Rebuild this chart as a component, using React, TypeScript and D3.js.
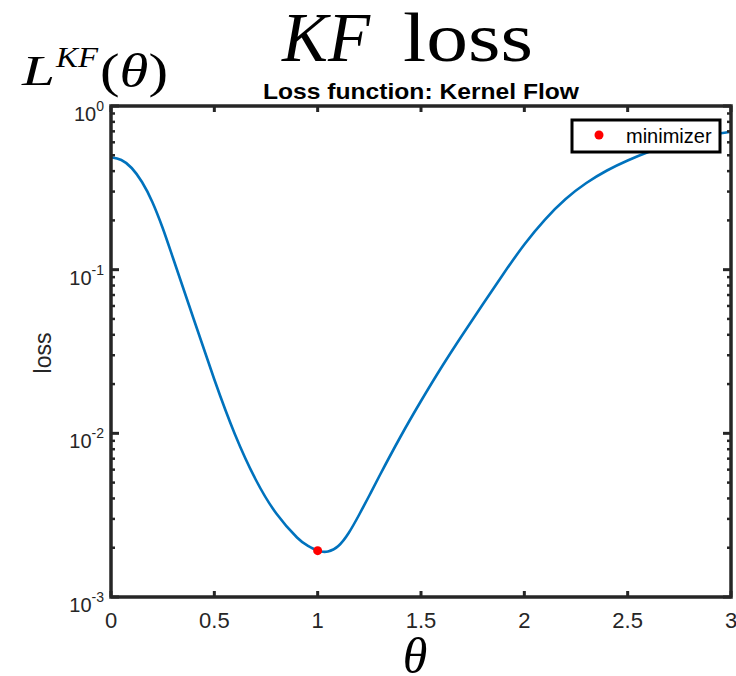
import React from "react";
import * as d3 from "d3";

// Kernel Flow loss sampled over theta
const thetaValues = [0, 0.05, 0.1, 0.15, 0.2, 0.25, 0.3, 0.4, 0.5, 0.6, 0.7, 0.8, 0.9, 0.95, 1.0, 1.05, 1.1, 1.15, 1.2, 1.25, 1.3, 1.4, 1.5, 1.6, 1.7, 1.8, 1.9, 2.0, 2.1, 2.2, 2.3, 2.4, 2.5, 2.6, 2.7, 2.8, 2.9, 3.0];
const lossValues = [0.486, 0.4678, 0.418, 0.3432, 0.2591, 0.1797, 0.1178, 0.04995, 0.02133, 0.00984, 0.005224, 0.003237, 0.00231, 0.002064, 0.00192, 0.001895, 0.00205, 0.002461, 0.00317, 0.004171, 0.005525, 0.009497, 0.01576, 0.02543, 0.0399, 0.06168, 0.09476, 0.1425, 0.2025, 0.2703, 0.3384, 0.4036, 0.4645, 0.5235, 0.5776, 0.6242, 0.6649, 0.6966];

const minimizerTheta = 1.0;
const minimizerLoss = 0.00192;

const xTicks = [0, 0.5, 1, 1.5, 2, 2.5, 3];
const xTickLabels = ["0", "0.5", "1", "1.5", "2", "2.5", "3"];
const yDecades = [0, -1, -2, -3];

const W = 736;
const H = 676;
const left = 111;
const right = 731;
const top = 106;
const bottom = 597;

const axisColor = "#262626";
const lineColor = "#0072BD";
const sans = "'Liberation Sans', Arial, sans-serif";
const serif = "'Liberation Serif', 'DejaVu Serif', serif";

export default function App() {
  const x = d3.scaleLinear().domain([0, 3]).range([left, right]);
  const y = d3.scaleLog().domain([1e-3, 1]).range([bottom, top]);

  const pts = thetaValues.map((t, i) => [t, lossValues[i]] as [number, number]);
  const line = d3
    .line<[number, number]>()
    .x((d) => x(d[0]))
    .y((d) => y(d[1]))
    .curve(d3.curveNatural);

  // minor log ticks 2..9 within each decade
  const minor: number[] = [];
  for (let e = -3; e < 0; e++) {
    for (let m = 2; m <= 9; m++) minor.push(m * Math.pow(10, e));
  }

  const majorLen = 8;
  const minorLen = 4;
  const xTickLen = 6;

  return (
    <svg
      width={W}
      height={H}
      style={{ position: "absolute", left: 0, top: 0, background: "#fff" }}
    >
      <rect x={0} y={0} width={W} height={H} fill="#fff" />

      {/* headline */}
      <text x={282} y={61} fontFamily={serif} fontSize={70} fontStyle="italic" fill="#000" textLength={88} lengthAdjust="spacingAndGlyphs">
        KF
      </text>
      <text x={403} y={61} fontFamily={serif} fontSize={70} fill="#000" textLength={130} lengthAdjust="spacingAndGlyphs">
        loss
      </text>

      {/* quantity label L^{KF}(θ) */}
      <text x={22} y={85} fontFamily={serif} fontSize={42} fontStyle="italic" fill="#000" textLength={33} lengthAdjust="spacingAndGlyphs">
        L
      </text>
      <text x={56} y={67} fontFamily={serif} fontSize={29} fontStyle="italic" fill="#000" textLength={42} lengthAdjust="spacingAndGlyphs">
        KF
      </text>
      <text x={100} y={87} fontFamily={serif} fontSize={48} fill="#000" textLength={68} lengthAdjust="spacingAndGlyphs">
        <tspan>(</tspan>
        <tspan fontStyle="italic">θ</tspan>
        <tspan>)</tspan>
      </text>

      {/* axes title */}
      <text x={421} y={99} textAnchor="middle" fontFamily={sans} fontSize={22} fontWeight="bold" fill="#000" textLength={316} lengthAdjust="spacingAndGlyphs">
        Loss function: Kernel Flow
      </text>

      {/* curve */}
      <path d={line(pts) || ""} fill="none" stroke={lineColor} strokeWidth={2.6} />

      {/* minimizer */}
      <circle cx={x(minimizerTheta)} cy={y(minimizerLoss)} r={4.5} fill="#ff0000" />

      {/* x ticks, bottom and top */}
      {xTicks.map((t) => (
        <g key={"xt" + t}>
          <line x1={x(t)} x2={x(t)} y1={bottom} y2={bottom - xTickLen} stroke={axisColor} strokeWidth={3} />
          <line x1={x(t)} x2={x(t)} y1={top} y2={top + xTickLen} stroke={axisColor} strokeWidth={3} />
        </g>
      ))}
      {xTicks.map((t, i) => (
        <text key={"xl" + t} x={x(t)} y={628} textAnchor="middle" fontFamily={sans} fontSize={22} fill={axisColor}>
          {xTickLabels[i]}
        </text>
      ))}

      {/* y ticks, left and right */}
      {yDecades.map((e) => {
        const v = Math.pow(10, e);
        return (
          <g key={"yd" + e}>
            <line x1={left} x2={left + majorLen} y1={y(v)} y2={y(v)} stroke={axisColor} strokeWidth={3} />
            <line x1={right} x2={right - majorLen} y1={y(v)} y2={y(v)} stroke={axisColor} strokeWidth={3} />
            <text x={104} y={y(v) + 15} textAnchor="end" fontFamily={sans} fontSize={20} fill={axisColor}>
              <tspan>10</tspan>
              <tspan fontSize={14} dy={-10}>{e === 0 ? "0" : "-" + String(-e)}</tspan>
            </text>
          </g>
        );
      })}
      {minor.map((v) => (
        <g key={"ym" + v}>
          <line x1={left} x2={left + minorLen} y1={y(v)} y2={y(v)} stroke={axisColor} strokeWidth={2.5} />
          <line x1={right} x2={right - minorLen} y1={y(v)} y2={y(v)} stroke={axisColor} strokeWidth={2.5} />
        </g>
      ))}

      {/* frame */}
      <rect x={left} y={top} width={right - left} height={bottom - top} fill="none" stroke={axisColor} strokeWidth={3.5} />

      {/* y axis label */}
      <text transform={`translate(51,353) rotate(-90)`} textAnchor="middle" fontFamily={sans} fontSize={23} fill={axisColor}>
        loss
      </text>

      {/* x quantity label */}
      <text x={415} y={673} textAnchor="middle" fontFamily={serif} fontSize={50} fontStyle="italic" fill="#000">
        θ
      </text>

      {/* legend */}
      <rect x={572} y={120} width={148} height={32} fill="#fff" stroke="#000" strokeWidth={3} />
      <circle cx={599} cy={135} r={4.5} fill="#ff0000" />
      <text x={626} y={143} fontFamily={sans} fontSize={20} fill="#000">
        minimizer
      </text>
    </svg>
  );
}
